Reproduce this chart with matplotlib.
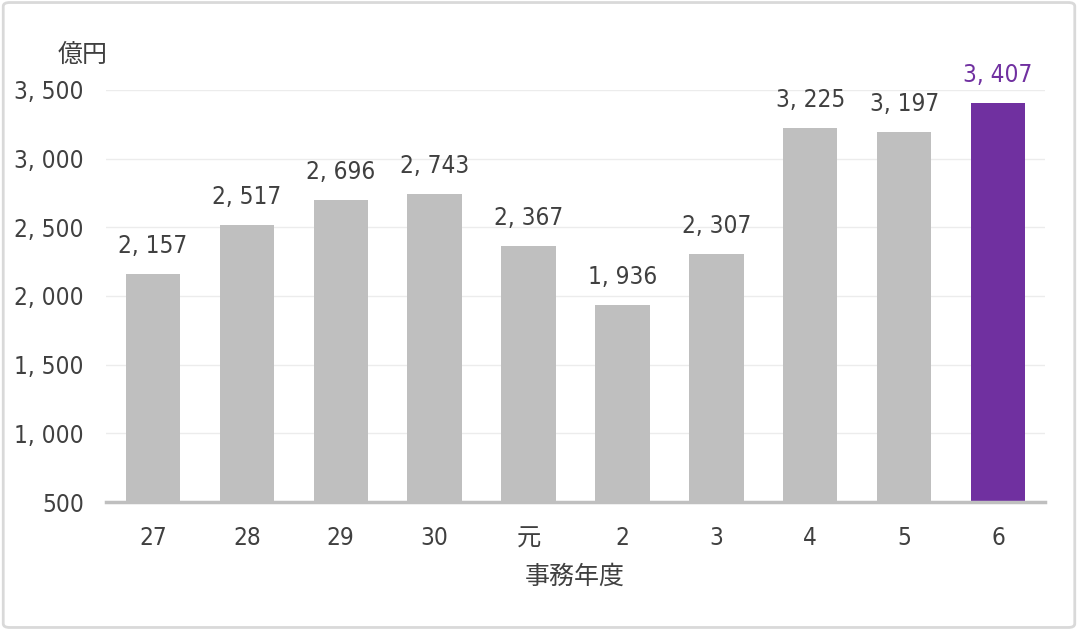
import matplotlib.pyplot as plt
from matplotlib.patches import FancyBboxPatch
from matplotlib import font_manager

# data
years = ['27', '28', '29', '30', '元', '2', '3', '4', '5', '6']
values = [2157, 2517, 2696, 2743, 2367, 1936, 2307, 3225, 3197, 3407]
yticks = [500, 1000, 1500, 2000, 2500, 3000, 3500]

GRAY = '#bfbfbf'
PURPLE = '#7030a0'
TXT = '#404040'

# look for a narrow face for the numbers
narrow = None
for f in font_manager.fontManager.ttflist:
    if ('Narrow' in f.name or 'Condensed' in f.name or f.stretch in ('condensed', 'semi-condensed')) \
            and f.weight in (400, 'normal', 'regular') and f.style == 'normal' and 'Mono' not in f.name \
            and 'Serif' not in f.name:
        narrow = f.fname
        break
if narrow:
    numprop = font_manager.FontProperties(fname=narrow, size=17.5)
else:
    numprop = font_manager.FontProperties(family='Liberation Sans', size=16)

plt.rcParams['font.family'] = ['Noto Sans CJK JP', 'DejaVu Sans']

def fmt(v):
    return f'{v:,}'.replace(',', ', ')

fig = plt.figure(figsize=(10.78, 6.30), dpi=100)
ax = fig.add_axes([106/1078, (630-502)/630, (1045-106)/1078, (502-90)/630])

colors = [GRAY] * (len(values) - 1) + [PURPLE]
x = range(len(values))
ax.bar(x, values, width=0.58, color=colors, zorder=2)

for i, v in enumerate(values):
    ax.annotate(fmt(v), (i, v), xytext=(0, 11.5), textcoords='offset points',
                ha='center', va='bottom', fontproperties=numprop,
                color=PURPLE if i == len(values) - 1 else TXT,
                annotation_clip=False)

ax.set_xlim(-0.5, len(values) - 0.5)
ax.set_ylim(500, 3500)
ax.set_yticks(yticks)
ax.set_yticklabels([fmt(t) for t in yticks], color=TXT, fontproperties=numprop)
ax.set_xticks(list(x))
ax.set_xticklabels(years, color=TXT, fontproperties=numprop)
ax.get_xticklabels()[4].set_fontproperties(font_manager.FontProperties(family='Noto Sans CJK JP', size=17.5))
ax.tick_params(axis='both', length=0)
ax.tick_params(axis='y', pad=16)
ax.tick_params(axis='x', pad=17)

ax.grid(axis='y', color='#ececec', linewidth=1, zorder=0)
for s in ['top', 'right', 'left']:
    ax.spines[s].set_visible(False)
ax.spines['bottom'].set_color(GRAY)
ax.spines['bottom'].set_linewidth(2.5)
ax.spines['bottom'].set_zorder(3)

fig.text(83/1078, 1 - 55/630, '億円', ha='center', va='center', fontsize=18, color=TXT)
fig.text(575/1078, 1 - 577/630, '事務年度', ha='center', va='center', fontsize=18, color=TXT)

border = FancyBboxPatch((0.003, 0.004), 0.994, 0.992, boxstyle='round,pad=0,rounding_size=0.006',
                        transform=fig.transFigure, fill=False, edgecolor='#d9d9d9', linewidth=2)
fig.patches.append(border)

fig.savefig('out.png', dpi=100, facecolor='white')
